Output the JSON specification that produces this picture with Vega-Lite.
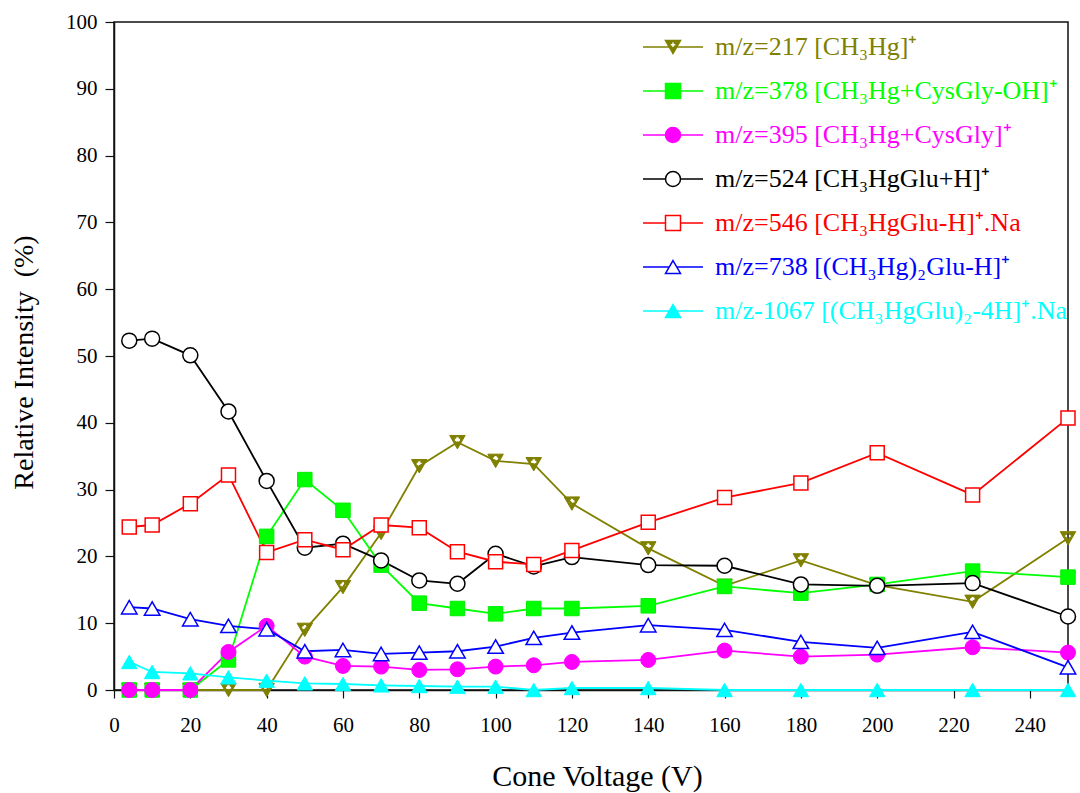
{
  "$schema": "https://vega.github.io/schema/vega-lite/v6.json",
  "width": 954,
  "height": 668,
  "autosize": {"type": "none"},
  "padding": {"left": 114, "top": 22, "right": 12, "bottom": 103},
  "background": "white",
  "config": {
    "view": {"stroke": "#111", "strokeWidth": 1.5},
    "font": "Liberation Serif",
    "axis": {
      "grid": false,
      "domainColor": "#111",
      "domainWidth": 1.5,
      "tickColor": "#111",
      "tickWidth": 1.2,
      "labelColor": "#000",
      "titleColor": "#000",
      "labelFont": "Liberation Serif",
      "titleFont": "Liberation Serif",
      "titleFontWeight": "normal",
      "labelFontSize": 21
    },
    "legend": {
      "orient": "none", "legendX": 546, "legendY": 12, "title": null, "padding": 0,
      "labelFont": "Liberation Serif", "labelFontSize": 26, "labelLimit": 600, "labelOffset": 29,
      "symbolSize": 225, "symbolStrokeWidth": 1.5, "rowPadding": 18, "symbolOpacity": 1
    }
  },
  "data": {
    "values": [
      {"s": "217", "v": 4, "y": 0}, {"s": "217", "v": 10, "y": 0}, {"s": "217", "v": 20, "y": 0}, {"s": "217", "v": 30, "y": 0}, {"s": "217", "v": 40, "y": 0},
      {"s": "217", "v": 50, "y": 9.0}, {"s": "217", "v": 60, "y": 15.4}, {"s": "217", "v": 70, "y": 23.5}, {"s": "217", "v": 80, "y": 33.5}, {"s": "217", "v": 90, "y": 37.1},
      {"s": "217", "v": 100, "y": 34.3}, {"s": "217", "v": 110, "y": 33.8}, {"s": "217", "v": 120, "y": 27.9}, {"s": "217", "v": 140, "y": 21.2}, {"s": "217", "v": 160, "y": 15.6},
      {"s": "217", "v": 180, "y": 19.4}, {"s": "217", "v": 200, "y": 15.7}, {"s": "217", "v": 225, "y": 13.2}, {"s": "217", "v": 250, "y": 22.7},

      {"s": "378", "v": 4, "y": 0}, {"s": "378", "v": 10, "y": 0}, {"s": "378", "v": 20, "y": 0}, {"s": "378", "v": 30, "y": 4.5}, {"s": "378", "v": 40, "y": 23.0},
      {"s": "378", "v": 50, "y": 31.5}, {"s": "378", "v": 60, "y": 26.9}, {"s": "378", "v": 70, "y": 18.7}, {"s": "378", "v": 80, "y": 13.0}, {"s": "378", "v": 90, "y": 12.2},
      {"s": "378", "v": 100, "y": 11.4}, {"s": "378", "v": 110, "y": 12.2}, {"s": "378", "v": 120, "y": 12.2}, {"s": "378", "v": 140, "y": 12.6}, {"s": "378", "v": 160, "y": 15.5},
      {"s": "378", "v": 180, "y": 14.5}, {"s": "378", "v": 200, "y": 15.8}, {"s": "378", "v": 225, "y": 17.8}, {"s": "378", "v": 250, "y": 16.9},

      {"s": "395", "v": 4, "y": 0}, {"s": "395", "v": 10, "y": 0}, {"s": "395", "v": 20, "y": 0}, {"s": "395", "v": 30, "y": 5.7}, {"s": "395", "v": 40, "y": 9.6},
      {"s": "395", "v": 50, "y": 5.0}, {"s": "395", "v": 60, "y": 3.6}, {"s": "395", "v": 70, "y": 3.5}, {"s": "395", "v": 80, "y": 3.0}, {"s": "395", "v": 90, "y": 3.1},
      {"s": "395", "v": 100, "y": 3.5}, {"s": "395", "v": 110, "y": 3.7}, {"s": "395", "v": 120, "y": 4.2}, {"s": "395", "v": 140, "y": 4.5}, {"s": "395", "v": 160, "y": 5.9},
      {"s": "395", "v": 180, "y": 5.0}, {"s": "395", "v": 200, "y": 5.3}, {"s": "395", "v": 225, "y": 6.4}, {"s": "395", "v": 250, "y": 5.6},

      {"s": "524", "v": 4, "y": 52.3}, {"s": "524", "v": 10, "y": 52.6}, {"s": "524", "v": 20, "y": 50.1}, {"s": "524", "v": 30, "y": 41.7}, {"s": "524", "v": 40, "y": 31.3},
      {"s": "524", "v": 50, "y": 21.3}, {"s": "524", "v": 60, "y": 21.9}, {"s": "524", "v": 70, "y": 19.4}, {"s": "524", "v": 80, "y": 16.4}, {"s": "524", "v": 90, "y": 15.9},
      {"s": "524", "v": 100, "y": 20.4}, {"s": "524", "v": 110, "y": 18.5}, {"s": "524", "v": 120, "y": 19.9}, {"s": "524", "v": 140, "y": 18.7}, {"s": "524", "v": 160, "y": 18.6},
      {"s": "524", "v": 180, "y": 15.8}, {"s": "524", "v": 200, "y": 15.6}, {"s": "524", "v": 225, "y": 16.0}, {"s": "524", "v": 250, "y": 11.0},

      {"s": "546", "v": 4, "y": 24.4}, {"s": "546", "v": 10, "y": 24.7}, {"s": "546", "v": 20, "y": 27.9}, {"s": "546", "v": 30, "y": 32.2}, {"s": "546", "v": 40, "y": 20.6},
      {"s": "546", "v": 50, "y": 22.5}, {"s": "546", "v": 60, "y": 21.0}, {"s": "546", "v": 70, "y": 24.7}, {"s": "546", "v": 80, "y": 24.3}, {"s": "546", "v": 90, "y": 20.7},
      {"s": "546", "v": 100, "y": 19.2}, {"s": "546", "v": 110, "y": 18.8}, {"s": "546", "v": 120, "y": 20.9}, {"s": "546", "v": 140, "y": 25.1}, {"s": "546", "v": 160, "y": 28.8},
      {"s": "546", "v": 180, "y": 31.0}, {"s": "546", "v": 200, "y": 35.5}, {"s": "546", "v": 225, "y": 29.2}, {"s": "546", "v": 250, "y": 40.7},

      {"s": "738", "v": 4, "y": 12.4}, {"s": "738", "v": 10, "y": 12.2}, {"s": "738", "v": 20, "y": 10.6}, {"s": "738", "v": 30, "y": 9.6}, {"s": "738", "v": 40, "y": 9.1},
      {"s": "738", "v": 50, "y": 5.8}, {"s": "738", "v": 60, "y": 6.0}, {"s": "738", "v": 70, "y": 5.4}, {"s": "738", "v": 80, "y": 5.6}, {"s": "738", "v": 90, "y": 5.8},
      {"s": "738", "v": 100, "y": 6.5}, {"s": "738", "v": 110, "y": 7.8}, {"s": "738", "v": 120, "y": 8.6}, {"s": "738", "v": 140, "y": 9.7}, {"s": "738", "v": 160, "y": 9.0},
      {"s": "738", "v": 180, "y": 7.2}, {"s": "738", "v": 200, "y": 6.3}, {"s": "738", "v": 225, "y": 8.7}, {"s": "738", "v": 250, "y": 3.4},

      {"s": "1067", "v": 4, "y": 4.2}, {"s": "1067", "v": 10, "y": 2.7}, {"s": "1067", "v": 20, "y": 2.5}, {"s": "1067", "v": 30, "y": 1.9}, {"s": "1067", "v": 40, "y": 1.4},
      {"s": "1067", "v": 50, "y": 1.0}, {"s": "1067", "v": 60, "y": 0.9}, {"s": "1067", "v": 70, "y": 0.7}, {"s": "1067", "v": 80, "y": 0.6}, {"s": "1067", "v": 90, "y": 0.5},
      {"s": "1067", "v": 100, "y": 0.5}, {"s": "1067", "v": 110, "y": 0.0}, {"s": "1067", "v": 120, "y": 0.3}, {"s": "1067", "v": 140, "y": 0.3}, {"s": "1067", "v": 160, "y": 0},
      {"s": "1067", "v": 180, "y": 0}, {"s": "1067", "v": 200, "y": 0}, {"s": "1067", "v": 225, "y": 0}, {"s": "1067", "v": 250, "y": 0}
    ]
  },
  "encoding": {
    "x": {
      "field": "v", "type": "quantitative",
      "scale": {"domain": [0, 250], "nice": false, "zero": false},
      "axis": {
        "title": "Cone Voltage (V)",
        "values": [0, 20, 40, 60, 80, 100, 120, 140, 160, 180, 200, 220, 240],
        "tickSize": 8, "labelPadding": 16, "labelFontSize": 21,
        "titleFontSize": 30, "titleX": 483, "titleY": 95, "titleAlign": "center", "titleBaseline": "alphabetic",
        "labelFlush": false, "labelOverlap": false
      }
    },
    "y": {
      "field": "y", "type": "quantitative",
      "scale": {"domain": [0, 100], "nice": false},
      "axis": {
        "title": "Relative Intensity\u00a0 (%)",
        "values": [0, 10, 20, 30, 40, 50, 60, 70, 80, 90, 100],
        "tickSize": 9, "labelPadding": 8, "labelFontSize": 21,
        "titleFontSize": 28, "titleX": -90, "titleY": 340, "titleAngle": -90, "titleAlign": "center", "titleBaseline": "middle",
        "labelFlush": false, "labelOverlap": false
      }
    }
  },
  "layer": [
    {
      "mark": {"type": "point", "filled": true, "opacity": 0, "strokeWidth": 1.5},
      "encoding": {
        "stroke": {
          "field": "s", "type": "nominal",
          "scale": {"domain": ["217", "378", "395", "524", "546", "738", "1067"], "range": ["#808000", "#00ff00", "#ff00ff", "#000000", "#ff0000", "#0000ff", "#00ffff"]},
          "legend": {
            "labelColor": {"expr": "scale('stroke', datum.value)"},
            "labelExpr": "datum.value == '217' ? 'm/z=217 [CH₃Hg]⁺' : datum.value == '378' ? 'm/z=378 [CH₃Hg+CysGly-OH]⁺' : datum.value == '395' ? 'm/z=395 [CH₃Hg+CysGly]⁺' : datum.value == '524' ? 'm/z=524 [CH₃HgGlu+H]⁺' : datum.value == '546' ? 'm/z=546 [CH₃HgGlu-H]⁺.Na' : datum.value == '738' ? 'm/z=738 [(CH₃Hg)₂Glu-H]⁺' : 'm/z-1067 [(CH₃HgGlu)₂-4H]⁺.Na'",
            "encode": {
              "symbols": {"opacity": {"value": 1}}
            }
          }
        },
        "fill": {
          "field": "s", "type": "nominal",
          "scale": {"domain": ["217", "378", "395", "524", "546", "738", "1067"], "range": ["#808000", "#00ff00", "#ff00ff", "#ffffff", "#ffffff", "#ffffff", "#00ffff"]}
        },
        "shape": {
          "field": "s", "type": "nominal",
          "scale": {
            "domain": ["217", "378", "395", "524", "546", "738", "1067"],
            "range": [
              "M-1,-0.866H1L0,0.866Z M-0.2,-0.7L-0.2,-0.5L-0.4,-0.5L-0.4,-0.1L-0.2,-0.1L-0.2,0.1L0.2,0.1L0.2,-0.1L0.4,-0.1L0.4,-0.5L0.2,-0.5L0.2,-0.7Z M-4,0H-0.5 M0.5,0H4",
              "M-1,-1H1V1H-1Z M-4,0H-1 M1,0H4",
              "M1,0A1,1,0,1,1,-1,0A1,1,0,1,1,1,0Z M-4,0H-1 M1,0H4",
              "M1,0A1,1,0,1,1,-1,0A1,1,0,1,1,1,0Z M-4,0H-1 M1,0H4",
              "M-1,-1H1V1H-1Z M-4,0H-1 M1,0H4",
              "M0,-0.866L1,0.866L-1,0.866Z M-4,0H-0.5 M0.5,0H4",
              "M0,-0.866L1,0.866L-1,0.866Z M-4,0H-0.5 M0.5,0H4"
            ]
          }
        }
      }
    },
    {
      "mark": {"type": "line", "strokeWidth": 1.8},
      "encoding": {
        "color": {
          "field": "s", "type": "nominal",
          "scale": {"domain": ["217", "378", "395", "524", "546", "738", "1067"], "range": ["#808000", "#00ff00", "#ff00ff", "#000000", "#ff0000", "#0000ff", "#00ffff"]},
          "legend": null
        }
      }
    },
    {
      "transform": [{"filter": "datum.s == '217'"}],
      "mark": {"type": "point", "filled": true, "opacity": 1, "size": 240, "fill": "#808000", "stroke": "#808000", "strokeWidth": 1,
        "shape": "M-1,-0.866H1L0,0.866Z M-0.2,-0.7L-0.2,-0.5L-0.4,-0.5L-0.4,-0.1L-0.2,-0.1L-0.2,0.1L0.2,0.1L0.2,-0.1L0.4,-0.1L0.4,-0.5L0.2,-0.5L0.2,-0.7Z"}
    },
    {
      "transform": [{"filter": "datum.s == '378'"}],
      "mark": {"type": "point", "filled": true, "opacity": 1, "size": 210, "fill": "#00ff00", "stroke": "#00ee00", "strokeWidth": 1, "shape": "square"}
    },
    {
      "transform": [{"filter": "datum.s == '395'"}],
      "mark": {"type": "point", "filled": true, "opacity": 1, "size": 225, "fill": "#ff00ff", "stroke": "#ff00ff", "strokeWidth": 1, "shape": "circle"}
    },
    {
      "transform": [{"filter": "datum.s == '524'"}],
      "mark": {"type": "point", "filled": true, "opacity": 1, "size": 225, "fill": "#ffffff", "stroke": "#000000", "strokeWidth": 1.5, "shape": "circle"}
    },
    {
      "transform": [{"filter": "datum.s == '546'"}],
      "mark": {"type": "point", "filled": true, "opacity": 1, "size": 196, "fill": "#ffffff", "stroke": "#ff0000", "strokeWidth": 1.5, "shape": "square"}
    },
    {
      "transform": [{"filter": "datum.s == '738'"}],
      "mark": {"type": "point", "filled": true, "opacity": 1, "size": 240, "fill": "#ffffff", "stroke": "#0000ff", "strokeWidth": 1.5, "shape": "triangle-up"}
    },
    {
      "transform": [{"filter": "datum.s == '1067'"}],
      "mark": {"type": "point", "filled": true, "opacity": 1, "size": 240, "fill": "#00ffff", "stroke": "#00ffff", "strokeWidth": 1, "shape": "triangle-up"}
    }
  ]
}
